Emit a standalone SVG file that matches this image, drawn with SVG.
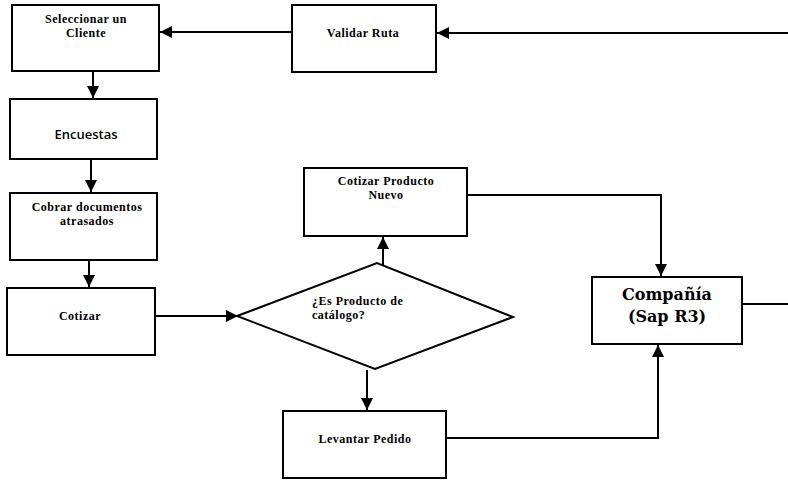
<svg xmlns="http://www.w3.org/2000/svg" width="788" height="480" viewBox="0 0 788 480">
  <style>
    .box { fill: #ffffff; stroke: #000000; stroke-width: 2; }
    .lbl { font-family: "Liberation Serif", "Times New Roman", serif; font-weight: bold; font-size: 12px; letter-spacing: 0.5px; fill: #000000; text-anchor: middle; }
    .lbl-left { font-family: "Liberation Serif", "Times New Roman", serif; font-weight: bold; font-size: 12px; letter-spacing: 0.5px; fill: #000000; text-anchor: start; }
    .sans { font-family: "Open Sans", "Liberation Sans", sans-serif; font-weight: 600; font-size: 13px; fill: #000000; text-anchor: middle; }
    .big { font-family: "DejaVu Serif", "Liberation Serif", serif; font-weight: bold; font-size: 16px; fill: #000000; text-anchor: middle; }
    .wire { fill: none; stroke: #000000; stroke-width: 2; }
  </style>
  <defs>
    <marker id="arrow" markerUnits="userSpaceOnUse" markerWidth="12" markerHeight="12" viewBox="0 0 12 12" refX="12" refY="6" orient="auto">
      <path d="M0,0 L12,6 L0,12 z" fill="#000000"/>
    </marker>
  </defs>
  <rect width="788" height="480" fill="#ffffff"/>

  <g id="connectors">
    <line class="wire" x1="788" y1="33" x2="437" y2="33" marker-end="url(#arrow)"/>
    <line class="wire" x1="292" y1="32" x2="160" y2="32" marker-end="url(#arrow)"/>
    <line class="wire" x1="93" y1="71" x2="93" y2="98" marker-end="url(#arrow)"/>
    <line class="wire" x1="91" y1="159" x2="91" y2="192" marker-end="url(#arrow)"/>
    <line class="wire" x1="89" y1="260" x2="89" y2="287" marker-end="url(#arrow)"/>
    <line class="wire" x1="155" y1="316" x2="238" y2="316" marker-end="url(#arrow)"/>
    <line class="wire" x1="383" y1="266" x2="383" y2="237" marker-end="url(#arrow)"/>
    <line class="wire" x1="367" y1="370" x2="367" y2="410" marker-end="url(#arrow)"/>
    <polyline class="wire" points="467,195 661,195 661,276" marker-end="url(#arrow)"/>
    <polyline class="wire" points="446,438 658,438 658,345" marker-end="url(#arrow)"/>
    <line class="wire" x1="742" y1="304" x2="788" y2="304"/>
  </g>

  <g id="seleccionar-cliente">
    <rect class="box" x="12" y="5" width="147" height="66"/>
    <text class="lbl" x="86" y="23">Seleccionar un</text>
    <text class="lbl" x="86" y="37">Cliente</text>
  </g>

  <g id="validar-ruta">
    <rect class="box" x="292" y="5" width="144" height="67"/>
    <text class="lbl" x="363" y="37">Validar Ruta</text>
  </g>

  <g id="encuestas">
    <rect class="box" x="10" y="99" width="147" height="60"/>
    <text class="sans" x="86" y="139">Encuestas</text>
  </g>

  <g id="cobrar-documentos">
    <rect class="box" x="10" y="193" width="147" height="67"/>
    <text class="lbl" x="87" y="211">Cobrar documentos</text>
    <text class="lbl" x="87" y="225">atrasados</text>
  </g>

  <g id="cotizar">
    <rect class="box" x="7" y="288" width="148" height="67"/>
    <text class="lbl" x="80" y="320">Cotizar</text>
  </g>

  <g id="es-producto-catalogo">
    <polygon class="box" points="237,316 377,263 513,317 375,369"/>
    <text class="lbl-left" x="312" y="305">¿Es Producto de</text>
    <text class="lbl-left" x="312" y="319">catálogo?</text>
  </g>

  <g id="cotizar-producto-nuevo">
    <rect class="box" x="304" y="168" width="163" height="68"/>
    <text class="lbl" x="386" y="185">Cotizar Producto</text>
    <text class="lbl" x="386" y="199">Nuevo</text>
  </g>

  <g id="levantar-pedido">
    <rect class="box" x="283" y="411" width="163" height="67"/>
    <text class="lbl" x="365" y="443">Levantar Pedido</text>
  </g>

  <g id="compania-sap">
    <rect class="box" x="592" y="277" width="150" height="67"/>
    <text class="big" x="667" y="300">Compañía</text>
    <text class="big" x="667" y="322">(Sap R3)</text>
  </g>
</svg>
